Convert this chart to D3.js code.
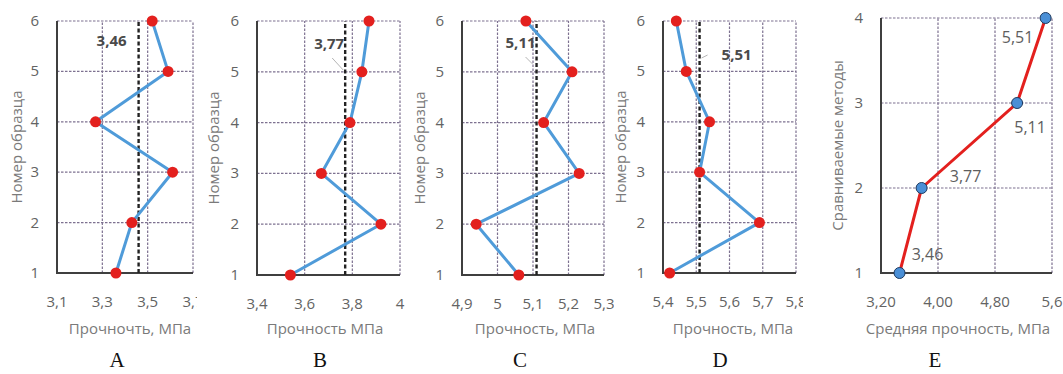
<!DOCTYPE html>
<meta charset="utf-8">
<title>Прочность образцов</title>
<style>
  body { margin: 0; background: #fff; }
  .grid { stroke: #7d7190; stroke-width: 1.2px; stroke-dasharray: 2.5,1.5; fill: none; }
  .axisline { stroke: #3f3f3f; stroke-width: 2px; }
  .tick { font-family: "Open Sans", sans-serif; font-size: 15px; fill: #636363; }
  .title { font-family: "Open Sans", sans-serif; font-size: 15px; fill: #7a7a7a; }
  .avg { stroke: #222; stroke-width: 2.4px; stroke-dasharray: 4,2.5; }
  .avglabel { font-family: "Open Sans", sans-serif; font-size: 15px; font-weight: bold; fill: #4a4a4a; }
  .leader { stroke: #b5b5b5; stroke-width: 1px; }
  .letter { font-family: "Liberation Serif", serif; font-size: 21px; fill: #111; }
</style>
<body>
<script src="https://d3js.org/d3.v7.min.js"></script>
<script>
  var width = 1063, height = 374;

  // sample numbers (y axis)
  var samples = [1, 2, 3, 4, 5, 6];

  // strength of samples, MPa
  var seriesA = [3.36, 3.43, 3.61, 3.27, 3.59, 3.52];
  var seriesB = [3.54, 3.92, 3.67, 3.79, 3.84, 3.87];
  var seriesC = [5.06, 4.94, 5.23, 5.13, 5.21, 5.08];
  var seriesD = [5.42, 5.69, 5.51, 5.54, 5.47, 5.44];

  // mean values
  var meanA = 3.46, meanB = 3.77, meanC = 5.11, meanD = 5.51;

  // panel E: compared methods vs mean strength
  var methods = [1, 2, 3, 4];
  var meanStrength = [3.46, 3.77, 5.11, 5.51];

  var ticksA = [3.1, 3.3, 3.5, 3.7], tickLabelsA = ["3,1", "3,3", "3,5", "3,7"];
  var ticksB = [3.4, 3.6, 3.8, 4.0], tickLabelsB = ["3,4", "3,6", "3,8", "4"];
  var ticksC = [4.9, 5.0, 5.1, 5.2, 5.3], tickLabelsC = ["4,9", "5", "5,1", "5,2", "5,3"];
  var ticksD = [5.4, 5.5, 5.6, 5.7, 5.8], tickLabelsD = ["5,4", "5,5", "5,6", "5,7", "5,8"];
  var ticksE = [3.2, 4.0, 4.8, 5.6], tickLabelsE = ["3,20", "4,00", "4,80", "5,6"];

  var fmt = function(v) { return v.toFixed(2).replace(".", ","); };

  var svg = d3.select("body").append("svg")
    .attr("width", width)
    .attr("height", height);

  svg.append("rect").attr("width", width).attr("height", height).attr("fill", "#fff");

  var defs = svg.append("defs");

  function panel(cfg) {
    defs.append("clipPath").attr("id", "clip" + cfg.letter)
      .append("rect").attr("x", cfg.clip[0]).attr("y", 0)
      .attr("width", cfg.clip[1] - cfg.clip[0]).attr("height", height);

    var g = svg.append("g").attr("clip-path", "url(#clip" + cfg.letter + ")");

    var x = d3.scaleLinear().domain([cfg.ticks[0], cfg.ticks[cfg.ticks.length - 1]]).range(cfg.xr);
    var y = d3.scaleLinear().domain([cfg.ys[0], cfg.ys[cfg.ys.length - 1]]).range(cfg.yr);

    // grid
    g.selectAll(".vg").data(cfg.ticks.slice(1)).enter().append("line")
      .attr("class", "grid")
      .attr("x1", d => x(d)).attr("x2", d => x(d))
      .attr("y1", cfg.yr[0]).attr("y2", cfg.yr[1]);
    g.selectAll(".hg").data(cfg.ys.slice(1)).enter().append("line")
      .attr("class", "grid")
      .attr("x1", cfg.xr[0]).attr("x2", cfg.xr[1])
      .attr("y1", d => y(d)).attr("y2", d => y(d));

    // axes
    g.append("line").attr("class", "axisline")
      .attr("x1", cfg.xr[0]).attr("x2", cfg.xr[0]).attr("y1", cfg.yr[1]).attr("y2", cfg.yr[0] + 1);
    g.append("line").attr("class", "axisline")
      .attr("x1", cfg.xr[0] - 1).attr("x2", cfg.xr[1]).attr("y1", cfg.yr[0]).attr("y2", cfg.yr[0]);

    // tick labels
    g.selectAll(".xt").data(cfg.ticks).enter().append("text")
      .attr("class", "tick")
      .attr("x", d => x(d)).attr("y", cfg.yr[0] + 34)
      .attr("text-anchor", "middle")
      .text((d, i) => cfg.tickLabels[i]);
    g.selectAll(".yt").data(cfg.ys).enter().append("text")
      .attr("class", "tick")
      .attr("x", cfg.xr[0] - 18).attr("y", d => y(d) + 5)
      .attr("text-anchor", "end")
      .text(d => d);

    // axis titles
    g.append("text").attr("class", "title")
      .attr("transform", "translate(" + cfg.yTitleX + "," + (cfg.yr[0] + cfg.yr[1]) / 2 + ") rotate(-90)")
      .attr("text-anchor", "middle")
      .text(cfg.yTitle);
    g.append("text").attr("class", "title")
      .attr("x", cfg.xTitleX).attr("y", 334)
      .attr("text-anchor", "middle")
      .text(cfg.xTitle);

    // mean line
    if (cfg.mean !== undefined) {
      g.append("line").attr("class", "avg")
        .attr("x1", x(cfg.mean)).attr("x2", x(cfg.mean))
        .attr("y1", cfg.yr[0]).attr("y2", cfg.yr[1]);
      if (cfg.leader) {
        g.append("line").attr("class", "leader")
          .attr("x1", x(cfg.mean) + cfg.leader[0]).attr("y1", cfg.leader[1])
          .attr("x2", x(cfg.mean) + cfg.leader[2]).attr("y2", cfg.leader[3]);
      }
      g.append("text").attr("class", "avglabel")
        .attr("x", x(cfg.mean) + cfg.labelDx).attr("y", cfg.labelY)
        .attr("text-anchor", "middle")
        .text(fmt(cfg.mean));
    }

    var pts = cfg.values.map((v, i) => [v, cfg.ys[i]]);

    g.append("path")
      .datum(pts)
      .attr("fill", "none")
      .attr("stroke", cfg.lineColor)
      .attr("stroke-width", 3)
      .attr("stroke-linejoin", "round")
      .attr("d", d3.line().x(d => x(d[0])).y(d => y(d[1])));

    g.selectAll(".pt").data(pts).enter().append("circle")
      .attr("cx", d => x(d[0])).attr("cy", d => y(d[1]))
      .attr("r", cfg.r)
      .attr("fill", cfg.markerColor)
      .attr("stroke", cfg.markerStroke || "none")
      .attr("stroke-width", 1);

    if (cfg.pointLabels) {
      g.selectAll(".pl").data(pts).enter().append("text")
        .attr("class", "tick")
        .style("font-size", "16px")
        .style("fill", "#5e5e5e")
        .attr("x", (d, i) => x(d[0]) + cfg.pointLabels[i][0])
        .attr("y", (d, i) => y(d[1]) + cfg.pointLabels[i][1])
        .attr("text-anchor", "middle")
        .text(d => fmt(d[0]));
    }

    svg.append("text").attr("class", "letter")
      .attr("x", cfg.letterX).attr("y", 367)
      .attr("text-anchor", "middle")
      .text(cfg.letter);
  }

  var blue = "#4f9bd9", red = "#e3201e";

  panel({ letter: "A", values: seriesA, ys: samples, ticks: ticksA, tickLabels: tickLabelsA,
    xr: [57, 193], yr: [273, 21], clip: [0, 197], mean: meanA, labelDx: -27, labelY: 46,
    yTitle: "Номер образца", yTitleX: 22, xTitle: "Прочночть, МПа", xTitleX: 130, letterX: 117,
    lineColor: blue, markerColor: red, r: 5.5 });

  panel({ letter: "B", values: seriesB, ys: samples, ticks: ticksB, tickLabels: tickLabelsB,
    xr: [257, 400], yr: [275, 21], clip: [200, 410], mean: meanB, labelDx: -16, labelY: 49,
    leader: [-13, 58, -2, 70],
    yTitle: "Номер образца", yTitleX: 219, xTitle: "Прочность МПа", xTitleX: 325, letterX: 320,
    lineColor: blue, markerColor: red, r: 5.5 });

  panel({ letter: "C", values: seriesC, ys: samples, ticks: ticksC, tickLabels: tickLabelsC,
    xr: [462, 604], yr: [275, 21], clip: [410, 614], mean: meanC, labelDx: -16, labelY: 48,
    leader: [-11, 57, -4, 64],
    yTitle: "Номер образца", yTitleX: 425, xTitle: "Прочность, МПа", xTitleX: 535, letterX: 520,
    lineColor: blue, markerColor: red, r: 5.5 });

  panel({ letter: "D", values: seriesD, ys: samples, ticks: ticksD, tickLabels: tickLabelsD,
    xr: [663, 796], yr: [273, 21], clip: [614, 803], mean: meanD, labelDx: 37, labelY: 60,
    leader: [2, 58, 8, 55],
    yTitle: "Номер образца", yTitleX: 626, xTitle: "Прочность, МПа", xTitleX: 733, letterX: 720,
    lineColor: blue, markerColor: red, r: 5.5 });

  panel({ letter: "E", values: meanStrength, ys: methods, ticks: ticksE, tickLabels: tickLabelsE,
    xr: [881, 1052], yr: [273, 18], clip: [815, 1063],
    pointLabels: [[28, -13], [44, -6], [13, 30], [-28, 25]],
    yTitle: "Сравниваемые методы", yTitleX: 843, xTitle: "Средняя прочность, МПа", xTitleX: 958, letterX: 935,
    lineColor: red, markerColor: "#4a8fd6", markerStroke: "#1e3a5f", r: 5.5 });
</script>
</body>
</html>
